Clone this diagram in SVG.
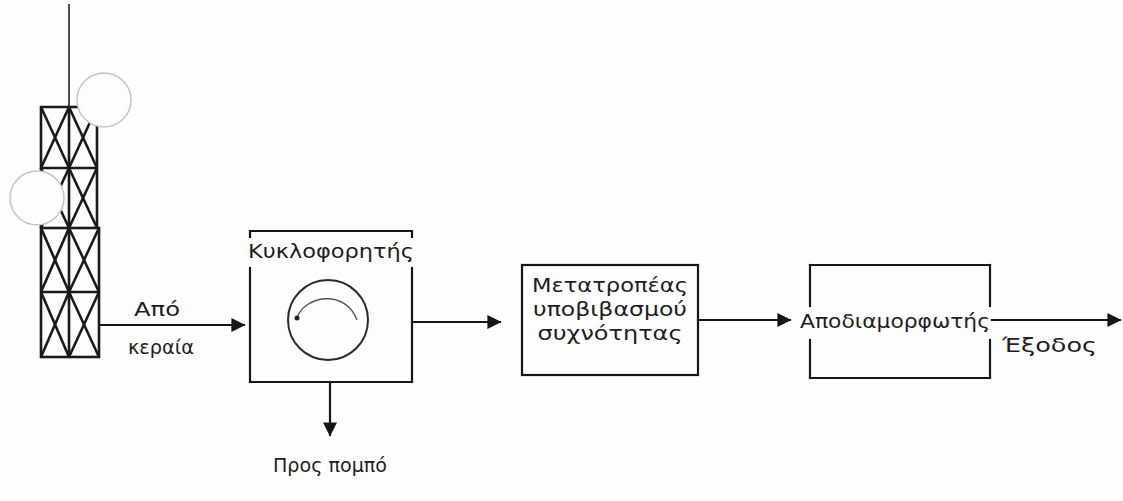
<svg xmlns="http://www.w3.org/2000/svg" width="1123" height="501" viewBox="0 0 1123 501">
  <style>
    .bg { fill: #fdfdfd; }
    .ln { fill: none; stroke: #161616; stroke-width: 2.2; stroke-linecap: square; }
    .tw { fill: none; stroke: #1a1a1a; stroke-width: 2.6; }
    .tw-thin { fill: none; stroke: #222; stroke-width: 1.6; }
    .halo { fill: #fdfdfd; stroke: #c4c4c4; stroke-width: 1.5; }
    .lbl { font-family: "DejaVu Sans", "Liberation Sans", sans-serif; font-size: 19px; fill: #1e1e1e; }
    .mid { text-anchor: middle; }
  </style>
  <defs>
    <marker id="arr" viewBox="0 0 10 10" refX="9" refY="5" markerWidth="14" markerHeight="14" markerUnits="userSpaceOnUse" orient="auto">
      <path d="M0,0 L10,5 L0,10 z" fill="#161616"/>
    </marker>
  </defs>

  <rect class="bg" x="0" y="0" width="1123" height="501"/>

  <!-- lattice antenna mast -->
  <g id="antenna">
    <line class="tw-thin" x1="69" y1="4" x2="69" y2="107"/>
    <!-- upper section -->
    <polyline class="tw" points="70,107 41,107 41,168 97,168"/>
    <line class="tw" x1="97" y1="107" x2="97" y2="228"/>
    <line class="tw" x1="70" y1="107" x2="97" y2="107"/>
    <line class="tw" x1="69" y1="107" x2="69" y2="357"/>
    <line class="tw" x1="41" y1="107" x2="69" y2="168"/>
    <line class="tw" x1="69" y1="107" x2="41" y2="168"/>
    <line class="tw" x1="69" y1="107" x2="97" y2="168"/>
    <line class="tw" x1="97" y1="107" x2="69" y2="168"/>
    <line class="tw" x1="41" y1="168" x2="41" y2="228"/>
    <line class="tw" x1="41" y1="168" x2="69" y2="228"/>
    <line class="tw" x1="69" y1="168" x2="41" y2="228"/>
    <line class="tw" x1="69" y1="168" x2="97" y2="228"/>
    <line class="tw" x1="97" y1="168" x2="69" y2="228"/>
    <!-- lower section -->
    <rect class="tw" x="41" y="228" width="58" height="129"/>
    <line class="tw" x1="41" y1="292" x2="99" y2="292"/>
    <line class="tw" x1="41" y1="228" x2="69" y2="292"/>
    <line class="tw" x1="69" y1="228" x2="41" y2="292"/>
    <line class="tw" x1="69" y1="228" x2="99" y2="292"/>
    <line class="tw" x1="99" y1="228" x2="69" y2="292"/>
    <line class="tw" x1="41" y1="292" x2="69" y2="357"/>
    <line class="tw" x1="69" y1="292" x2="41" y2="357"/>
    <line class="tw" x1="69" y1="292" x2="99" y2="357"/>
    <line class="tw" x1="99" y1="292" x2="69" y2="357"/>
    <!-- radiation discs -->
    <circle class="halo" cx="104" cy="100" r="27"/>
    <circle class="halo" cx="37" cy="198" r="27"/>
  </g>

  <g id="connectors">
    <line class="ln" x1="100" y1="325" x2="244" y2="325" marker-end="url(#arr)"/>
    <line class="ln" x1="412" y1="322" x2="500" y2="322" marker-end="url(#arr)"/>
    <line class="ln" x1="330" y1="382" x2="330" y2="435" marker-end="url(#arr)"/>
    <line class="ln" x1="698" y1="320" x2="790" y2="320" marker-end="url(#arr)"/>
    <line class="ln" x1="992" y1="320" x2="1120" y2="320" marker-end="url(#arr)"/>
  </g>

  <g id="antenna-label">
    <text class="lbl mid" x="157" y="316" textLength="46" lengthAdjust="spacingAndGlyphs">Από</text>
    <text class="lbl mid" x="161" y="354" textLength="66" lengthAdjust="spacingAndGlyphs">κεραία</text>
  </g>

  <g id="circulator">
    <polyline class="ln" points="250,237 250,231 412,231 412,237"/>
    <line class="ln" x1="250" y1="268" x2="250" y2="382"/>
    <line class="ln" x1="412" y1="268" x2="412" y2="382"/>
    <line class="ln" x1="250" y1="382" x2="412" y2="382"/>
    <text class="lbl mid" x="331" y="258" textLength="166" lengthAdjust="spacingAndGlyphs">Κυκλοφορητής</text>
    <circle cx="328" cy="320" r="40" fill="none" stroke="#2a2a2a" stroke-width="2"/>
    <path d="M297,318 C304,296 345,288 357,320" fill="none" stroke="#555" stroke-width="1.4"/>
    <circle cx="297" cy="318" r="2.5" fill="#222"/>
  </g>

  <g id="transmitter-label">
    <text class="lbl mid" x="330" y="472" textLength="114" lengthAdjust="spacingAndGlyphs">Προς πομπό</text>
  </g>

  <g id="downconverter">
    <rect class="ln" x="522" y="265" width="176" height="110"/>
    <text class="lbl mid" x="610" y="292" textLength="156" lengthAdjust="spacingAndGlyphs">Μετατροπέας</text>
    <text class="lbl mid" x="610" y="316" textLength="154" lengthAdjust="spacingAndGlyphs">υποβιβασμού</text>
    <text class="lbl mid" x="610" y="340" textLength="145" lengthAdjust="spacingAndGlyphs">συχνότητας</text>
  </g>

  <g id="demodulator">
    <line class="ln" x1="810" y1="265" x2="990" y2="265"/>
    <line class="ln" x1="810" y1="378" x2="990" y2="378"/>
    <line class="ln" x1="810" y1="265" x2="810" y2="306"/>
    <line class="ln" x1="810" y1="340" x2="810" y2="378"/>
    <line class="ln" x1="990" y1="265" x2="990" y2="306"/>
    <line class="ln" x1="990" y1="340" x2="990" y2="378"/>
    <text class="lbl" x="800" y="328" textLength="190" lengthAdjust="spacingAndGlyphs">Αποδιαμορφωτής</text>
  </g>

  <g id="output-label">
    <text class="lbl" x="1002" y="352" textLength="95" lengthAdjust="spacingAndGlyphs">Έξοδος</text>
  </g>
</svg>
